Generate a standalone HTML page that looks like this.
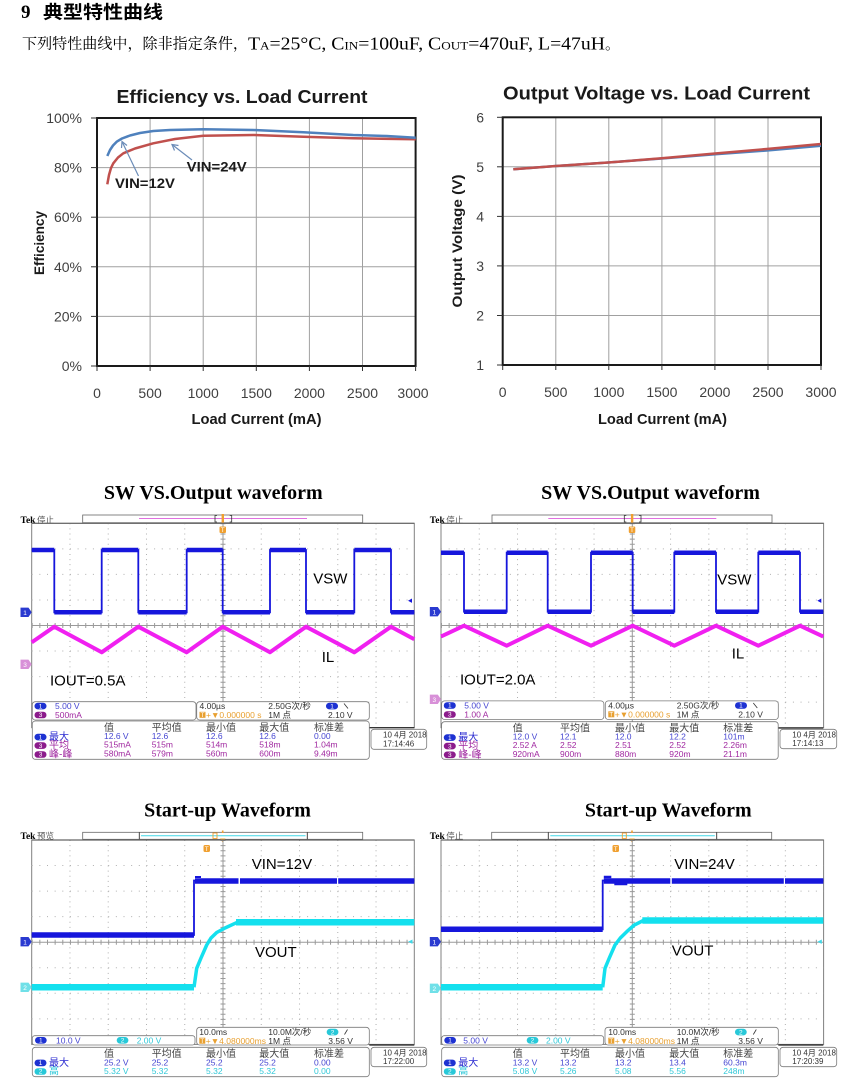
<!DOCTYPE html>
<html><head><meta charset="utf-8">
<style>
html,body{margin:0;padding:0;background:#fff;}
svg{display:block;}
</style></head><body>
<svg width="866" height="1088" viewBox="0 0 866 1088" xmlns="http://www.w3.org/2000/svg" xmlns:xlink="http://www.w3.org/1999/xlink">
<style>
.s{font-family:"Liberation Sans","Noto Sans CJK SC",sans-serif;}
.sm{font-size:8.5px;}
.hd{font-size:10px;fill:#444;}
.lb{font-size:10px;}
.b{fill:#4646d2;}
.bd{fill:#2a2ad0;}
.p{fill:#a028a0;}
.c{fill:#30c8d8;}
.o{fill:#e8a030;}
.g{fill:#333;}
.box{fill:#fff;stroke:#7a7a7a;stroke-width:0.8;}
.pw{font-size:6.5px;fill:#fff;font-family:"Liberation Sans",sans-serif;}
.ax{font-family:"Liberation Sans",sans-serif;font-size:14px;fill:#404040;}
.ct{font-family:"Liberation Sans",sans-serif;font-weight:bold;fill:#1a1a1a;}
.ttl{font-family:"Liberation Serif",serif;font-weight:bold;font-size:20px;fill:#000;}
.wl{font-family:"Liberation Sans",sans-serif;font-size:15px;fill:#000;}
</style>
<defs>
<g id="grat">
<rect x="0" y="0" width="382.6" height="204.4" fill="none" stroke="#808080" stroke-width="1"/>
<g stroke="#b0b0b0" stroke-width="1" stroke-dasharray="1 4.11">
<line x1="38.26" y1="0" x2="38.26" y2="204.4"/>
<line x1="76.52" y1="0" x2="76.52" y2="204.4"/>
<line x1="114.78" y1="0" x2="114.78" y2="204.4"/>
<line x1="153.04" y1="0" x2="153.04" y2="204.4"/>
<line x1="229.56" y1="0" x2="229.56" y2="204.4"/>
<line x1="267.82" y1="0" x2="267.82" y2="204.4"/>
<line x1="306.08" y1="0" x2="306.08" y2="204.4"/>
<line x1="344.34" y1="0" x2="344.34" y2="204.4"/>
</g>
<g stroke="#b0b0b0" stroke-width="1" stroke-dasharray="1 6.65">
<line x1="0" y1="25.55" x2="382.6" y2="25.55"/>
<line x1="0" y1="51.1" x2="382.6" y2="51.1"/>
<line x1="0" y1="76.65" x2="382.6" y2="76.65"/>
<line x1="0" y1="127.75" x2="382.6" y2="127.75"/>
<line x1="0" y1="153.3" x2="382.6" y2="153.3"/>
<line x1="0" y1="178.85" x2="382.6" y2="178.85"/>
</g>
<line x1="191.3" y1="0" x2="191.3" y2="204.4" stroke="#9a9a9a" stroke-width="1"/>
<line x1="0" y1="102.2" x2="382.6" y2="102.2" stroke="#9a9a9a" stroke-width="1"/>
<line x1="0" y1="102.2" x2="382.6" y2="102.2" stroke="#9a9a9a" stroke-width="5" stroke-dasharray="1 6.65"/>
<line x1="191.3" y1="0" x2="191.3" y2="204.4" stroke="#9a9a9a" stroke-width="5" stroke-dasharray="1 4.11"/>
<line x1="0" y1="0" x2="382.6" y2="0" stroke="#666" stroke-width="1.2"/>
</g>
</defs>
<rect width="866" height="1088" fill="#fff"/>

<!-- Header -->
<text x="21" y="18" style="font-family:'Liberation Serif',serif;font-weight:bold;font-size:19px">9</text>
<text x="43" y="18.5" style="font-family:'Noto Sans CJK SC',sans-serif;font-weight:bold;font-size:18px" textLength="120" lengthAdjust="spacingAndGlyphs">典型特性曲线</text>
<text x="22" y="48.5" style="font-family:'Noto Serif CJK SC',serif;font-size:15px" textLength="226" lengthAdjust="spacingAndGlyphs">下列特性曲线中，除非指定条件，</text>
<text x="248" y="49.5" style="font-family:'Liberation Serif',serif;font-size:18px" textLength="357" lengthAdjust="spacingAndGlyphs">T<tspan font-size="12">A</tspan>=25°C, C<tspan font-size="12">IN</tspan>=100uF, C<tspan font-size="12">OUT</tspan>=470uF, L=47uH</text>
<text x="605" y="49" style="font-family:'Noto Serif CJK SC',serif;font-size:15px">。</text>

<!-- Efficiency chart -->
<text x="242" y="103" text-anchor="middle" class="ct" font-size="18" textLength="251" lengthAdjust="spacingAndGlyphs">Efficiency vs. Load Current</text>
<g stroke="#a0a0a0" stroke-width="1">
<line x1="150.1" y1="118" x2="150.1" y2="366"/>
<line x1="203.2" y1="118" x2="203.2" y2="366"/>
<line x1="256.3" y1="118" x2="256.3" y2="366"/>
<line x1="309.4" y1="118" x2="309.4" y2="366"/>
<line x1="362.5" y1="118" x2="362.5" y2="366"/>
<line x1="97" y1="167.6" x2="415.6" y2="167.6"/>
<line x1="97" y1="217.2" x2="415.6" y2="217.2"/>
<line x1="97" y1="266.8" x2="415.6" y2="266.8"/>
<line x1="97" y1="316.4" x2="415.6" y2="316.4"/>
</g>
<rect x="97" y="118" width="318.6" height="248" fill="none" stroke="#1a1a1a" stroke-width="2"/>
<g stroke="#333" stroke-width="1">
<line x1="91" y1="118" x2="97" y2="118"/><line x1="91" y1="167.6" x2="97" y2="167.6"/><line x1="91" y1="217.2" x2="97" y2="217.2"/><line x1="91" y1="266.8" x2="97" y2="266.8"/><line x1="91" y1="316.4" x2="97" y2="316.4"/><line x1="91" y1="366" x2="97" y2="366"/>
<line x1="97" y1="366" x2="97" y2="371"/><line x1="150.1" y1="366" x2="150.1" y2="371"/><line x1="203.2" y1="366" x2="203.2" y2="371"/><line x1="256.3" y1="366" x2="256.3" y2="371"/><line x1="309.4" y1="366" x2="309.4" y2="371"/><line x1="362.5" y1="366" x2="362.5" y2="371"/><line x1="415.6" y1="366" x2="415.6" y2="371"/>
</g>
<g class="ax" text-anchor="end">
<text x="82" y="123">100%</text><text x="82" y="172.6">80%</text><text x="82" y="222.2">60%</text><text x="82" y="271.8">40%</text><text x="82" y="321.4">20%</text><text x="82" y="371">0%</text>
</g>
<g class="ax" text-anchor="middle">
<text x="97" y="398">0</text><text x="150.1" y="398">500</text><text x="203.2" y="398">1000</text><text x="256.3" y="398">1500</text><text x="309.4" y="398">2000</text><text x="362.5" y="398">2500</text><text x="413" y="398">3000</text>
</g>
<text x="256.5" y="424" text-anchor="middle" class="ct" font-size="15" fill="#333" textLength="130" lengthAdjust="spacingAndGlyphs">Load Current (mA)</text>
<text transform="translate(44,243) rotate(-90)" text-anchor="middle" class="ct" font-size="14" textLength="64" lengthAdjust="spacingAndGlyphs">Efficiency</text>
<polyline fill="none" stroke="#c0504d" stroke-width="2.5" stroke-linejoin="round" points="107.3,184.3 109,175 111,168 113.3,163.3 118,157.5 123.3,153.3 135,148.5 153.3,143.3 175,139 203.3,135.7 253.3,135 303.3,136.7 353.3,138.3 415.7,139.3"/>
<polyline fill="none" stroke="#4f81bd" stroke-width="2.5" stroke-linejoin="round" points="107.3,156 110,150 113,145.5 116.7,141.7 122,138.5 130,135.5 140,133 153.3,131 170,130 203.3,129.3 253.3,130 303.3,132.3 353.3,135 386.7,136 415.7,137.7"/>
<g stroke="#6b8cb8" stroke-width="1.2" fill="none">
<line x1="192" y1="160" x2="172" y2="144.5"/>
<polyline points="174.5,150.5 172,144.5 178.5,145.5"/>
<line x1="138.5" y1="176" x2="122" y2="141.5"/>
<polyline points="121.5,148 122,141.5 127,145.5"/>
</g>
<text x="186.7" y="171.5" class="ct" font-size="14" fill="#333" textLength="60" lengthAdjust="spacingAndGlyphs">VIN=24V</text>
<text x="115" y="188" class="ct" font-size="14" fill="#333" textLength="60" lengthAdjust="spacingAndGlyphs">VIN=12V</text>

<!-- Output voltage chart -->
<text x="656.5" y="99.5" text-anchor="middle" class="ct" font-size="18" textLength="307" lengthAdjust="spacingAndGlyphs">Output Voltage vs. Load Current</text>
<g stroke="#a0a0a0" stroke-width="1">
<line x1="555.8" y1="117.3" x2="555.8" y2="365"/>
<line x1="608.8" y1="117.3" x2="608.8" y2="365"/>
<line x1="661.9" y1="117.3" x2="661.9" y2="365"/>
<line x1="714.9" y1="117.3" x2="714.9" y2="365"/>
<line x1="768" y1="117.3" x2="768" y2="365"/>
<line x1="502.7" y1="166.8" x2="821" y2="166.8"/>
<line x1="502.7" y1="216.4" x2="821" y2="216.4"/>
<line x1="502.7" y1="265.9" x2="821" y2="265.9"/>
<line x1="502.7" y1="315.5" x2="821" y2="315.5"/>
</g>
<rect x="502.7" y="117.3" width="318.3" height="247.7" fill="none" stroke="#1a1a1a" stroke-width="2"/>
<g stroke="#333" stroke-width="1">
<line x1="497" y1="117.3" x2="502.7" y2="117.3"/><line x1="497" y1="166.8" x2="502.7" y2="166.8"/><line x1="497" y1="216.4" x2="502.7" y2="216.4"/><line x1="497" y1="265.9" x2="502.7" y2="265.9"/><line x1="497" y1="315.5" x2="502.7" y2="315.5"/><line x1="497" y1="365" x2="502.7" y2="365"/>
<line x1="502.7" y1="365" x2="502.7" y2="370"/><line x1="555.8" y1="365" x2="555.8" y2="370"/><line x1="608.8" y1="365" x2="608.8" y2="370"/><line x1="661.9" y1="365" x2="661.9" y2="370"/><line x1="714.9" y1="365" x2="714.9" y2="370"/><line x1="768" y1="365" x2="768" y2="370"/><line x1="821" y1="365" x2="821" y2="370"/>
</g>
<g class="ax" text-anchor="end">
<text x="484" y="122.3">6</text><text x="484" y="171.8">5</text><text x="484" y="221.4">4</text><text x="484" y="270.9">3</text><text x="484" y="320.5">2</text><text x="484" y="370">1</text>
</g>
<g class="ax" text-anchor="middle">
<text x="502.7" y="397">0</text><text x="555.8" y="397">500</text><text x="608.8" y="397">1000</text><text x="661.9" y="397">1500</text><text x="714.9" y="397">2000</text><text x="768" y="397">2500</text><text x="821" y="397">3000</text>
</g>
<text x="662.5" y="424" text-anchor="middle" class="ct" font-size="15" fill="#333" textLength="129" lengthAdjust="spacingAndGlyphs">Load Current (mA)</text>
<text transform="translate(462,241) rotate(-90)" text-anchor="middle" class="ct" font-size="14" textLength="133" lengthAdjust="spacingAndGlyphs">Output Voltage (V)</text>
<polyline fill="none" stroke="#4f81bd" stroke-width="2.5" points="513.3,169.3 556,166 608.3,162.5 661.7,158.5 715,154.3 766.7,150.5 821,145.7"/>
<polyline fill="none" stroke="#c0504d" stroke-width="2.5" points="513.3,169.3 556,166 608.3,162.5 661.7,158.3 715,153.5 766.7,149 821,144"/>

<!-- Scope titles -->
<text x="213.3" y="499" text-anchor="middle" class="ttl">SW VS.Output waveform</text>
<text x="650.5" y="499" text-anchor="middle" class="ttl">SW VS.Output waveform</text>
<text x="227.5" y="816.7" text-anchor="middle" class="ttl">Start-up Waveform</text>
<text x="668.3" y="816.7" text-anchor="middle" class="ttl">Start-up Waveform</text>

<!-- ============ SW scope LEFT ============ -->
<g>
<text x="20.5" y="523" style="font-family:'Liberation Serif',serif;font-weight:bold;font-size:9.5px">Tek</text>
<text x="37" y="523" class="s" style="font-size:8.5px;fill:#555">停止</text>
<rect x="82.7" y="515" width="280" height="7.7" fill="#fff" stroke="#666" stroke-width="0.8"/>
<line x1="139" y1="518.5" x2="307" y2="518.5" stroke="#e070e0" stroke-width="1"/>
<path d="M217,515.5 h-2 v6.5 h2 M229.7,515.5 h2 v6.5 h-2" stroke="#333" fill="none" stroke-width="0.8"/>
<rect x="221.6" y="514" width="2.4" height="9" fill="#f0a030"/>
<use href="#grat" xlink:href="#grat" x="31.7" y="523.3"/>
<rect x="219.5" y="526.5" width="6.5" height="6.5" rx="1" fill="#f0a030"/>
<text x="222.7" y="532" text-anchor="middle" class="pw">T</text>
<path d="M31.7,550 H54.3 V612.3 H101.7 V550 H138.3 V612.3 H186.7 V550 H222.7 V612.3 H270 V550 H306 V612.3 H354.3 V550 H391 V612.3 H414.3" fill="none" stroke="#1616dc" stroke-width="1.8"/>
<path d="M31.7,550 H54.3 M101.7,550 H138.3 M186.7,550 H222.7 M270,550 H306 M354.3,550 H391 M54.3,612.3 H101.7 M138.3,612.3 H186.7 M222.7,612.3 H270 M306,612.3 H354.3 M391,612.3 H414.3" stroke="#1616dc" stroke-width="4.5" fill="none"/>
<polyline points="31.7,642.4 54.3,626.7 101.7,652.3 138.3,626.7 186.7,652.3 222.7,626.7 270,652.3 306,626.7 354.3,652.3 391,626.7 414.3,639.3" fill="none" stroke="#f020f0" stroke-width="4" stroke-linejoin="round"/>
<polygon points="408,600.7 412,598.5 412,602.9" fill="#1616dc"/>
<polygon points="20.5,607.6 28.5,607.6 31.7,612.3 28.5,617 20.5,617" fill="#2a3ad0"/>
<text x="25" y="615" text-anchor="middle" class="pw">1</text>
<polygon points="20.5,659.6 28.5,659.6 31.7,664.3 28.5,669 20.5,669" fill="#d890d8"/>
<text x="25" y="667" text-anchor="middle" class="pw">3</text>
<text x="313.3" y="583.5" class="wl">VSW</text>
<text x="321.7" y="662" class="wl">IL</text>
<text x="50" y="685.5" class="wl">IOUT=0.5A</text>
<!-- info -->
<rect x="32.3" y="701.7" width="163.7" height="18.3" rx="3" class="box"/>
<rect x="196.7" y="701.7" width="172.6" height="18.3" rx="3" class="box"/>
<line x1="369.3" y1="727.7" x2="414.3" y2="727.7" stroke="#222" stroke-width="1.2"/>
<rect x="34.5" y="702.8" width="12" height="6.6" rx="3.3" fill="#1e32d2"/><text x="40.5" y="708.3" text-anchor="middle" class="pw">1</text>
<text x="55" y="709" class="s sm b">5.00 V</text>
<rect x="34.5" y="711.7" width="12" height="6.6" rx="3.3" fill="#8c1c8c"/><text x="40.5" y="717.2" text-anchor="middle" class="pw">3</text>
<text x="55" y="718" class="s sm p">500mA</text>
<text x="199.5" y="709" class="s sm g">4.00µs</text>
<text x="268.3" y="709" class="s sm g">2.50G次/秒</text>
<rect x="326" y="702.8" width="12" height="6.6" rx="3.3" fill="#1e32d2"/><text x="332" y="708.3" text-anchor="middle" class="pw">1</text>
<line x1="344" y1="703.5" x2="348" y2="708.5" stroke="#333" stroke-width="0.8"/>
<rect x="199.5" y="711.8" width="6" height="6" fill="#e8a030"/><text x="202.5" y="717" text-anchor="middle" class="pw">T</text>
<text x="206" y="718" class="s sm o">+▼0.000000 s</text>
<text x="268.3" y="718" class="s sm g">1M 点</text>
<text x="328" y="718" class="s sm g">2.10 V</text>
<rect x="32.3" y="721" width="337" height="38.3" rx="3" class="box"/>
<g class="s hd"><text x="104" y="731">值</text><text x="151.7" y="731">平均值</text><text x="206" y="731">最小值</text><text x="259.3" y="731">最大值</text><text x="314" y="731">标准差</text></g>
<rect x="34.5" y="733.8" width="12" height="6.6" rx="3.3" fill="#1e32d2"/><text x="40.5" y="739.3" text-anchor="middle" class="pw">1</text>
<text x="49" y="740" class="s lb bd">最大</text>
<g class="s sm b"><text x="104" y="739">12.6 V</text><text x="151.7" y="739">12.6</text><text x="206" y="739">12.6</text><text x="259.3" y="739">12.6</text><text x="314" y="739">0.00</text></g>
<rect x="34.5" y="742.3" width="12" height="6.6" rx="3.3" fill="#8c1c8c"/><text x="40.5" y="747.8" text-anchor="middle" class="pw">3</text>
<text x="49" y="748.5" class="s lb p">平均</text>
<g class="s sm p"><text x="104" y="747.5">515mA</text><text x="151.7" y="747.5">515m</text><text x="206" y="747.5">514m</text><text x="259.3" y="747.5">518m</text><text x="314" y="747.5">1.04m</text></g>
<rect x="34.5" y="751.2" width="12" height="6.6" rx="3.3" fill="#8c1c8c"/><text x="40.5" y="756.7" text-anchor="middle" class="pw">3</text>
<text x="49" y="757.5" class="s lb p">峰-峰</text>
<g class="s sm p"><text x="104" y="756.5">580mA</text><text x="151.7" y="756.5">579m</text><text x="206" y="756.5">560m</text><text x="259.3" y="756.5">600m</text><text x="314" y="756.5">9.49m</text></g>
<rect x="371" y="729.3" width="55.7" height="20" rx="3" class="box"/>
<text x="383" y="737.5" class="s g" font-size="8">10 4月 2018</text>
<text x="383" y="746.5" class="s g" font-size="8">17:14:46</text>
</g>

<!-- ============ SW scope RIGHT ============ -->
<g transform="translate(409.3,0)">
<text x="20.5" y="523" style="font-family:'Liberation Serif',serif;font-weight:bold;font-size:9.5px">Tek</text>
<text x="37" y="523" class="s" style="font-size:8.5px;fill:#555">停止</text>
<rect x="82.7" y="515" width="280" height="7.7" fill="#fff" stroke="#666" stroke-width="0.8"/>
<line x1="139" y1="518.5" x2="307" y2="518.5" stroke="#e070e0" stroke-width="1"/>
<path d="M217,515.5 h-2 v6.5 h2 M229.7,515.5 h2 v6.5 h-2" stroke="#333" fill="none" stroke-width="0.8"/>
<rect x="221.6" y="514" width="2.4" height="9" fill="#f0a030"/>
<use href="#grat" xlink:href="#grat" x="31.7" y="523.3"/>
<rect x="219.5" y="526.5" width="6.5" height="6.5" rx="1" fill="#f0a030"/>
<text x="222.7" y="532" text-anchor="middle" class="pw">T</text>
<path d="M31.7,552.7 H54.7 V611.7 H97.4 V552.7 H138.4 V611.7 H181.7 V552.7 H223.4 V611.7 H265 V552.7 H306.7 V611.7 H349 V552.7 H390.7 V611.7 H414" fill="none" stroke="#1616dc" stroke-width="1.8"/>
<path d="M31.7,552.7 H54.7 M97.4,552.7 H138.4 M181.7,552.7 H223.4 M265,552.7 H306.7 M349,552.7 H390.7 M54.7,611.7 H97.4 M138.4,611.7 H181.7 M223.4,611.7 H265 M306.7,611.7 H349 M390.7,611.7 H414" stroke="#1616dc" stroke-width="4.5" fill="none"/>
<polyline points="31.7,636.5 54.7,625.7 97.4,645.7 138.4,625.7 181.7,645.7 223.4,625.7 265,645.7 306.7,625.7 349,645.7 390.7,625.7 414,636.6" fill="none" stroke="#f020f0" stroke-width="4" stroke-linejoin="round"/>
<polygon points="408,600.7 412,598.5 412,602.9" fill="#1616dc"/>
<polygon points="20.5,607 28.5,607 31.7,611.7 28.5,616.4 20.5,616.4" fill="#2a3ad0"/>
<text x="25" y="614.4" text-anchor="middle" class="pw">1</text>
<polygon points="20.5,694.6 28.5,694.6 31.7,699.3 28.5,704 20.5,704" fill="#d890d8"/>
<text x="25" y="702" text-anchor="middle" class="pw">3</text>
<text x="308" y="584.3" class="wl">VSW</text>
<text x="322.4" y="658.5" class="wl">IL</text>
<text x="50.7" y="684.5" class="wl">IOUT=2.0A</text>
<rect x="32.3" y="700.9" width="162.3" height="18.6" rx="3" class="box"/>
<rect x="196" y="700.9" width="173" height="18.6" rx="3" class="box"/>
<line x1="369" y1="728" x2="414" y2="728" stroke="#222" stroke-width="1.2"/>
<rect x="34.5" y="702.2" width="12" height="6.6" rx="3.3" fill="#1e32d2"/><text x="40.5" y="707.7" text-anchor="middle" class="pw">1</text>
<text x="55" y="708.5" class="s sm b">5.00 V</text>
<rect x="34.5" y="711.2" width="12" height="6.6" rx="3.3" fill="#8c1c8c"/><text x="40.5" y="716.7" text-anchor="middle" class="pw">3</text>
<text x="55" y="717.5" class="s sm p">1.00 A</text>
<text x="199" y="708.5" class="s sm g">4.00µs</text>
<text x="267.4" y="708.5" class="s sm g">2.50G次/秒</text>
<rect x="325.7" y="702.2" width="12" height="6.6" rx="3.3" fill="#1e32d2"/><text x="331.7" y="707.7" text-anchor="middle" class="pw">1</text>
<line x1="344" y1="703" x2="348" y2="708" stroke="#333" stroke-width="0.8"/>
<rect x="199" y="711.3" width="6" height="6" fill="#e8a030"/><text x="202" y="716.5" text-anchor="middle" class="pw">T</text>
<text x="205.5" y="717.5" class="s sm o">+▼0.000000 s</text>
<text x="267.4" y="717.5" class="s sm g">1M 点</text>
<text x="329" y="717.5" class="s sm g">2.10 V</text>
<rect x="32.3" y="721.7" width="336.6" height="37.6" rx="3" class="box"/>
<g class="s hd"><text x="103.4" y="731.5">值</text><text x="150.7" y="731.5">平均值</text><text x="205.7" y="731.5">最小值</text><text x="260" y="731.5">最大值</text><text x="314" y="731.5">标准差</text></g>
<rect x="34.5" y="734.3" width="12" height="6.6" rx="3.3" fill="#1e32d2"/><text x="40.5" y="739.8" text-anchor="middle" class="pw">1</text>
<text x="49" y="740.5" class="s lb bd">最大</text>
<g class="s sm b"><text x="103.4" y="739.5">12.0 V</text><text x="150.7" y="739.5">12.1</text><text x="205.7" y="739.5">12.0</text><text x="260" y="739.5">12.2</text><text x="314" y="739.5">101m</text></g>
<rect x="34.5" y="742.8" width="12" height="6.6" rx="3.3" fill="#8c1c8c"/><text x="40.5" y="748.3" text-anchor="middle" class="pw">3</text>
<text x="49" y="749" class="s lb p">平均</text>
<g class="s sm p"><text x="103.4" y="748">2.52 A</text><text x="150.7" y="748">2.52</text><text x="205.7" y="748">2.51</text><text x="260" y="748">2.52</text><text x="314" y="748">2.26m</text></g>
<rect x="34.5" y="751.5" width="12" height="6.6" rx="3.3" fill="#8c1c8c"/><text x="40.5" y="757" text-anchor="middle" class="pw">3</text>
<text x="49" y="757.8" class="s lb p">峰-峰</text>
<g class="s sm p"><text x="103.4" y="756.8">920mA</text><text x="150.7" y="756.8">900m</text><text x="205.7" y="756.8">880m</text><text x="260" y="756.8">920m</text><text x="314" y="756.8">21.1m</text></g>
<rect x="370.7" y="729.3" width="56.7" height="19.4" rx="3" class="box"/>
<text x="383" y="737.3" class="s g" font-size="8">10 4月 2018</text>
<text x="383" y="746" class="s g" font-size="8">17:14:13</text>
</g>

<!-- ============ Startup LEFT ============ -->
<g>
<text x="20.5" y="839" style="font-family:'Liberation Serif',serif;font-weight:bold;font-size:9.5px">Tek</text>
<text x="37" y="839" class="s" style="font-size:8.5px;fill:#555">预览</text>
<rect x="82.7" y="832.3" width="280" height="7" fill="#fff" stroke="#666" stroke-width="0.8"/>
<line x1="139.3" y1="832.3" x2="139.3" y2="839.3" stroke="#333" stroke-width="0.9"/>
<line x1="307.3" y1="832.3" x2="307.3" y2="839.3" stroke="#333" stroke-width="0.9"/>
<line x1="141" y1="835.8" x2="305.5" y2="835.8" stroke="#40d8e8" stroke-width="1"/>
<rect x="213" y="833" width="4" height="5.5" fill="none" stroke="#f0a030" stroke-width="0.9"/>
<polygon points="220,838.5 225.5,838.5 222.7,842.5" fill="#f0a030"/>
<rect x="221.9" y="830.5" width="1.6" height="2.5" fill="#f0a030"/>
<use href="#grat" xlink:href="#grat" x="31.7" y="840"/>
<rect x="203.5" y="845" width="6.5" height="7" rx="1.5" fill="#f0a030"/>
<text x="206.7" y="850.8" text-anchor="middle" class="pw">T</text>
<path d="M31.7,935 H194 V880.5 H414.3" fill="none" stroke="#1616dc" stroke-width="1.8"/>
<path d="M31.7,935 H194 M195,881 H414.3" stroke="#1616dc" stroke-width="5.5" fill="none"/>
<path d="M195,877 H201" stroke="#1616dc" stroke-width="2"/>
<path d="M238.5,881 H240 M337,881 H338.2" stroke="#fff" stroke-width="6"/>
<polyline points="194,987.3 196.7,968.3 201,958 206.7,945 211,938 216.7,932.5 225,928 237.3,922.3" fill="none" stroke="#14e0ee" stroke-width="3.5" stroke-linejoin="round"/>
<path d="M31.7,987.3 H194 M236,922.3 H414.3" stroke="#14e0ee" stroke-width="6.5" fill="none"/>
<polygon points="408,941.7 412.5,939.5 412.5,943.9" fill="#40d8e8"/>
<polygon points="20.5,937 28.5,937 31.7,941.7 28.5,946.4 20.5,946.4" fill="#2a3ad0"/>
<text x="25" y="944.4" text-anchor="middle" class="pw">1</text>
<polygon points="20.5,982.6 28.5,982.6 31.7,987.3 28.5,992 20.5,992" fill="#70e0e8"/>
<text x="25" y="990" text-anchor="middle" class="pw">2</text>
<text x="251.7" y="869" class="wl">VIN=12V</text>
<text x="255" y="957" class="wl">VOUT</text>
<rect x="32.3" y="1035.7" width="162.7" height="9.3" rx="2.5" class="box"/>
<rect x="196.7" y="1027.3" width="172.6" height="17.7" rx="3" class="box"/>
<line x1="369.3" y1="1045" x2="414.3" y2="1045" stroke="#222" stroke-width="1.2"/>
<rect x="35" y="1037" width="11.7" height="6.6" rx="3.3" fill="#1e32d2"/><text x="40.8" y="1042.5" text-anchor="middle" class="pw">1</text>
<text x="56" y="1043.5" class="s sm b">10.0 V</text>
<rect x="116.7" y="1037" width="11.7" height="6.6" rx="3.3" fill="#28c8d8"/><text x="122.5" y="1042.5" text-anchor="middle" class="pw">2</text>
<text x="136.7" y="1043.5" class="s sm c">2.00 V</text>
<text x="199.3" y="1035.2" class="s sm g">10.0ms</text>
<text x="268.3" y="1035.2" class="s sm g">10.0M次/秒</text>
<rect x="326.7" y="1028.8" width="11.7" height="6.6" rx="3.3" fill="#28c8d8"/><text x="332.5" y="1034.3" text-anchor="middle" class="pw">2</text>
<line x1="344.5" y1="1034.5" x2="347.5" y2="1029.5" stroke="#333" stroke-width="0.8"/>
<rect x="199.3" y="1037.7" width="6" height="6" fill="#e8a030"/><text x="202.3" y="1042.9" text-anchor="middle" class="pw">T</text>
<text x="205.8" y="1044" class="s sm o">+▼4.080000ms</text>
<text x="268.3" y="1044" class="s sm g">1M 点</text>
<text x="328.3" y="1044" class="s sm g">3.56 V</text>
<rect x="32.3" y="1047.3" width="337" height="29.4" rx="3" class="box"/>
<g class="s hd"><text x="104" y="1057">值</text><text x="151.7" y="1057">平均值</text><text x="206" y="1057">最小值</text><text x="259.3" y="1057">最大值</text><text x="314" y="1057">标准差</text></g>
<rect x="34.5" y="1059.6" width="12" height="6.6" rx="3.3" fill="#1e32d2"/><text x="40.5" y="1065.1" text-anchor="middle" class="pw">1</text>
<text x="49" y="1066" class="s lb bd">最大</text>
<g class="s sm b"><text x="104" y="1065.3">25.2 V</text><text x="151.7" y="1065.3">25.2</text><text x="206" y="1065.3">25.2</text><text x="259.3" y="1065.3">25.2</text><text x="314" y="1065.3">0.00</text></g>
<rect x="34.5" y="1068.2" width="12" height="6.6" rx="3.3" fill="#28c8d8"/><text x="40.5" y="1073.7" text-anchor="middle" class="pw">2</text>
<text x="49" y="1074.7" class="s lb c">高</text>
<g class="s sm c"><text x="104" y="1074">5.32 V</text><text x="151.7" y="1074">5.32</text><text x="206" y="1074">5.32</text><text x="259.3" y="1074">5.32</text><text x="314" y="1074">0.00</text></g>
<rect x="371" y="1047.3" width="55.7" height="19.4" rx="3" class="box"/>
<text x="383" y="1055.5" class="s g" font-size="8">10 4月 2018</text>
<text x="383" y="1064" class="s g" font-size="8">17:22:00</text>
</g>

<!-- ============ Startup RIGHT ============ -->
<g transform="translate(409.3,0)">
<text x="20.5" y="839" style="font-family:'Liberation Serif',serif;font-weight:bold;font-size:9.5px">Tek</text>
<text x="37" y="839" class="s" style="font-size:8.5px;fill:#555">停止</text>
<rect x="82.4" y="832.3" width="280" height="7" fill="#fff" stroke="#666" stroke-width="0.8"/>
<line x1="139" y1="832.3" x2="139" y2="839.3" stroke="#333" stroke-width="0.9"/>
<line x1="307.4" y1="832.3" x2="307.4" y2="839.3" stroke="#333" stroke-width="0.9"/>
<line x1="141" y1="835.8" x2="305.5" y2="835.8" stroke="#40d8e8" stroke-width="1"/>
<rect x="213" y="833" width="4" height="5.5" fill="none" stroke="#f0a030" stroke-width="0.9"/>
<polygon points="220,838.5 225.5,838.5 222.7,842.5" fill="#f0a030"/>
<rect x="221.9" y="830.5" width="1.6" height="2.5" fill="#f0a030"/>
<use href="#grat" xlink:href="#grat" x="31.7" y="840"/>
<rect x="203.2" y="845" width="6.5" height="7" rx="1.5" fill="#f0a030"/>
<text x="206.4" y="850.8" text-anchor="middle" class="pw">T</text>
<path d="M31.7,929.3 H193.4 V880.5 H414" fill="none" stroke="#1616dc" stroke-width="1.8"/>
<path d="M31.7,929.3 H193.4 M194.5,881 H414" stroke="#1616dc" stroke-width="5.5" fill="none"/>
<path d="M194.5,877 H202 M205,884 H218" stroke="#1616dc" stroke-width="2.5"/>
<path d="M261,881 H262.5 M374.5,881 H375.7" stroke="#fff" stroke-width="6"/>
<polyline points="193.4,987.3 195.7,968.3 200,958 205.7,945 211,938 217.4,931.7 225,925 234,920.5" fill="none" stroke="#14e0ee" stroke-width="3.5" stroke-linejoin="round"/>
<path d="M31.7,987.3 H193.4 M233,920.5 H414" stroke="#14e0ee" stroke-width="6.5" fill="none"/>
<polygon points="408,941.7 412.5,939.5 412.5,943.9" fill="#40d8e8"/>
<polygon points="20.5,937 28.5,937 31.7,941.7 28.5,946.4 20.5,946.4" fill="#2a3ad0"/>
<text x="25" y="944.4" text-anchor="middle" class="pw">1</text>
<polygon points="20.5,983.6 28.5,983.6 31.7,988.3 28.5,993 20.5,993" fill="#70e0e8"/>
<text x="25" y="991" text-anchor="middle" class="pw">2</text>
<text x="265" y="869" class="wl">VIN=24V</text>
<text x="262.4" y="955.5" class="wl">VOUT</text>
<rect x="32.4" y="1035.7" width="162" height="9.3" rx="2.5" class="box"/>
<rect x="195.7" y="1027.3" width="173.3" height="17.7" rx="3" class="box"/>
<line x1="369" y1="1045" x2="414" y2="1045" stroke="#222" stroke-width="1.2"/>
<rect x="35" y="1037" width="11.7" height="6.6" rx="3.3" fill="#1e32d2"/><text x="40.8" y="1042.5" text-anchor="middle" class="pw">1</text>
<text x="54" y="1043.5" class="s sm b">5.00 V</text>
<rect x="117.4" y="1037" width="11.7" height="6.6" rx="3.3" fill="#28c8d8"/><text x="123.2" y="1042.5" text-anchor="middle" class="pw">2</text>
<text x="136.7" y="1043.5" class="s sm c">2.00 V</text>
<text x="199" y="1035.2" class="s sm g">10.0ms</text>
<text x="267.4" y="1035.2" class="s sm g">10.0M次/秒</text>
<rect x="325.7" y="1028.8" width="11.7" height="6.6" rx="3.3" fill="#28c8d8"/><text x="331.5" y="1034.3" text-anchor="middle" class="pw">2</text>
<line x1="344" y1="1034.5" x2="347" y2="1029.5" stroke="#333" stroke-width="0.8"/>
<rect x="199" y="1037.7" width="6" height="6" fill="#e8a030"/><text x="202" y="1042.9" text-anchor="middle" class="pw">T</text>
<text x="205.5" y="1044" class="s sm o">+▼4.080000ms</text>
<text x="267.4" y="1044" class="s sm g">1M 点</text>
<text x="329" y="1044" class="s sm g">3.56 V</text>
<rect x="32.4" y="1047.3" width="336.6" height="29.4" rx="3" class="box"/>
<g class="s hd"><text x="103.4" y="1057">值</text><text x="150.7" y="1057">平均值</text><text x="205.7" y="1057">最小值</text><text x="260" y="1057">最大值</text><text x="314" y="1057">标准差</text></g>
<rect x="34.5" y="1059.6" width="12" height="6.6" rx="3.3" fill="#1e32d2"/><text x="40.5" y="1065.1" text-anchor="middle" class="pw">1</text>
<text x="49" y="1066" class="s lb bd">最大</text>
<g class="s sm b"><text x="103.4" y="1065.3">13.2 V</text><text x="150.7" y="1065.3">13.2</text><text x="205.7" y="1065.3">13.2</text><text x="260" y="1065.3">13.4</text><text x="314" y="1065.3">60.3m</text></g>
<rect x="34.5" y="1068.2" width="12" height="6.6" rx="3.3" fill="#28c8d8"/><text x="40.5" y="1073.7" text-anchor="middle" class="pw">2</text>
<text x="49" y="1074.7" class="s lb c">高</text>
<g class="s sm c"><text x="103.4" y="1074">5.08 V</text><text x="150.7" y="1074">5.26</text><text x="205.7" y="1074">5.08</text><text x="260" y="1074">5.56</text><text x="314" y="1074">248m</text></g>
<rect x="370.7" y="1047.3" width="56.7" height="19.4" rx="3" class="box"/>
<text x="383" y="1055.5" class="s g" font-size="8">10 4月 2018</text>
<text x="383" y="1064" class="s g" font-size="8">17:20:39</text>
</g>
</svg>
</body></html>
